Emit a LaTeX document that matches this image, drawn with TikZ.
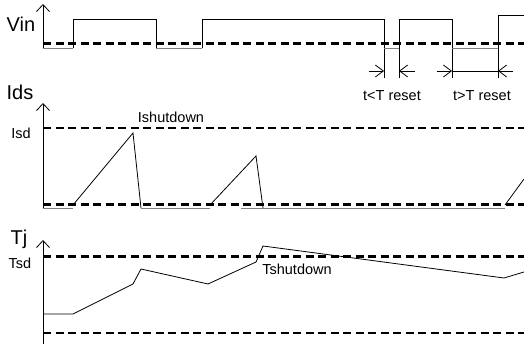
\documentclass[tikz,border=0pt]{standalone}
\usepackage{fontspec}
\setmainfont{Liberation Sans}
\usetikzlibrary{arrows.meta}
\tikzset{
  axisline/.style={line width=0.8pt,-{Straight Barb[length=7pt,width=13pt]}},
  sig/.style={line width=0.8pt},
  lowsig/.style={line width=0.8pt,gray},
  thickdash/.style={line width=3pt,dash pattern=on 8pt off 4.5pt},
  thindash/.style={line width=2pt,dash pattern=on 8pt off 4.5pt},
  dimarrow/.style={line width=0.8pt,-{Straight Barb[length=8pt,width=12pt]}},
  biglabel/.style={font=\fontsize{20}{22}\selectfont,anchor=base,inner sep=0pt},
  smalllabel/.style={font=\fontsize{14.5}{16}\selectfont,anchor=base,inner sep=0pt}
}
\begin{document}
\begin{tikzpicture}[line cap=butt,line join=miter,x=1pt,y=-1pt]
	\useasboundingbox (0,0) rectangle (524,344);
	% Vin
	\coordinate (vinbot) at (43,48);
	\coordinate (vintop) at (43,4);
	\draw [thickdash] (43,44)-- (524,44);
	\draw [axisline] (vinbot)-- (vintop);
	\draw [lowsig] (43,48)-- (73,48);
	\draw [sig] (73,48)-- (73,19)-- (156,19)-- (156,48);
	\draw [lowsig] (156,48)-- (202,48);
	\draw [sig] (202,48)-- (202,19)-- (384,19)-- (384,78);
	\draw [lowsig] (384,48)-- (399,48);
	\draw [sig] (399,78)-- (399,19)-- (452,19)-- (452,78);
	\draw [lowsig] (452,48)-- (498,48);
	\draw [sig] (498,78)-- (498,15)-- (524,15);
	\draw [dimarrow] (369,71)-- (384,71);
	\draw [dimarrow] (415,71)-- (399,71);
	\draw [dimarrow] (437,71)-- (452,71);
	\draw [sig] (452,71)-- (498,71);
	\draw [dimarrow] (513,71)-- (498,71);
	\node [biglabel] (vin) at (21,32) {Vin};
	\node [smalllabel] (tless) at (392,101) {t<T reset};
	\node [smalllabel] (tmore) at (482,101) {t>T reset};
	% Ids
	\coordinate (idsbot) at (43,208);
	\coordinate (idstop) at (43,103);
	\draw [thindash] (43,128.5)-- (524,128.5);
	\draw [thickdash] (43,204.5)-- (524,204.5);
	\draw [axisline] (idsbot)-- (idstop);
	\draw [lowsig] (43,208)-- (73,208);
	\draw [sig] (73,205)-- (133,133)-- (141,208);
	\draw [lowsig] (141,208)-- (210,208);
	\draw [sig] (210,205)-- (256,156)-- (263,208);
	\draw [lowsig] (241,208)-- (505,208);
	\draw [sig] (505,205)-- (524,179);
	\node [biglabel] (ids) at (20,100) {Ids};
	\node [smalllabel] (isd) at (21,139) {Isd};
	\node [smalllabel] (ishut) at (171,123) {Ishutdown};
	% Tj
	\coordinate (tjbot) at (43,344);
	\coordinate (tjtop) at (43,240);
	\draw [thickdash] (43,257)-- (524,257);
	\draw [thindash] (43,333)-- (524,333);
	\draw [axisline] (tjbot)-- (tjtop);
	\draw [sig] (43,314)-- (73,314)-- (133,284)-- (141,269)-- (208,284)-- (256,262)-- (263,246)-- (504,278)-- (524,272);
	\node [biglabel] (tj) at (19,245) {Tj};
	\node [smalllabel] (tsd) at (20,269) {Tsd};
	\node [smalllabel] (tshut) at (297,275) {Tshutdown};
\end{tikzpicture}
\end{document}
